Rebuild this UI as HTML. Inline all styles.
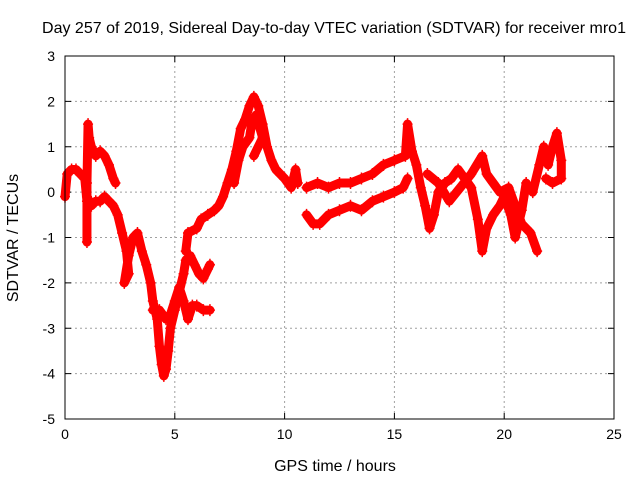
<!DOCTYPE html>
<html><head><meta charset="utf-8"><style>
body{margin:0;background:#fff;}
svg{display:block;font-family:"Liberation Sans",sans-serif;}
</style></head><body>
<svg id="chart" width="640" height="480">
<text x="334" y="33" font-size="16" text-anchor="middle">Day 257 of 2019, Sidereal Day-to-day VTEC variation (SDTVAR) for receiver mro1</text>
<text x="335" y="471" font-size="16" text-anchor="middle">GPS time / hours</text>
<text transform="translate(18,238) rotate(-90)" font-size="16" text-anchor="middle">SDTVAR / TECUs</text>
<g id="grid"></g><g id="marks"></g>
<rect x="65" y="56" width="549" height="363" fill="none" stroke="#000" stroke-width="1"/>
</svg>
<script>
const xTicks=[0,5,10,15,20,25];
const yTicks=[3,2,1,0,-1,-2,-3,-4,-5];
const track1=[[0,-0.1],[0.1,0.4],[0.3,0.5],[0.5,0.5],[0.7,0.4],[0.9,0.3],[1.0,-0.2],[1.0,-1.1],[1.0,0.2],[1.05,1.5],[1.1,1.2],[1.2,1.0],[1.4,0.8],[1.6,0.9],[1.8,0.8],[2.0,0.6],[2.2,0.3],[2.3,0.2]];
const track2=[[1.0,-0.1],[1.2,-0.3],[1.4,-0.2],[1.6,-0.2],[1.8,-0.1],[2.0,-0.2],[2.2,-0.3],[2.4,-0.5],[2.6,-0.9],[2.8,-1.3],[2.9,-1.8],[2.7,-2.0],[2.9,-1.4],[3.1,-1.0],[3.3,-0.9],[3.5,-1.3],[3.7,-1.6],[3.9,-2.0],[4.0,-2.4],[4.2,-2.8],[4.3,-3.4],[4.4,-3.8],[4.5,-4.05],[4.6,-3.9],[4.7,-3.5],[4.8,-3.0],[5.0,-2.6],[5.2,-2.2],[5.4,-1.8],[5.5,-1.5],[5.7,-1.4],[5.9,-1.6],[6.1,-1.8],[6.3,-1.9],[6.5,-1.7],[6.6,-1.6]];
const track3=[[4.0,-2.6],[4.3,-2.6],[4.6,-2.8],[4.8,-2.7],[5.0,-2.4],[5.2,-2.1],[5.4,-2.4],[5.6,-2.8],[5.8,-2.5],[6.0,-2.5],[6.3,-2.6],[6.6,-2.6]];
const track4=[[5.5,-1.3],[5.6,-0.9],[6.0,-0.8],[6.2,-0.6],[6.5,-0.5],[6.8,-0.4],[7.0,-0.3],[7.2,-0.1],[7.4,0.2],[7.6,0.5],[7.8,0.9],[8.0,1.4],[8.2,1.6],[8.4,1.9],[8.6,2.1],[8.8,1.9],[9.0,1.5],[9.2,1.0],[9.4,0.7],[9.6,0.5],[9.8,0.4],[10.0,0.3],[10.3,0.1],[10.5,0.5],[10.6,0.2]];
const track5=[[7.7,0.2],[7.9,0.7],[8.1,1.0],[8.4,1.2],[8.5,1.5],[8.7,1.7],[9.0,1.2],[8.6,0.8]];
const track6=[[11.0,-0.5],[11.3,-0.7],[11.6,-0.7],[12.0,-0.5],[12.5,-0.4],[13.0,-0.3],[13.5,-0.4],[14.0,-0.2],[14.5,-0.1],[15.0,0.0],[15.4,0.1],[15.6,0.3]];
const track7=[[11.0,0.1],[11.5,0.2],[12.0,0.1],[12.5,0.2],[13.0,0.2],[13.5,0.3],[14.0,0.4],[14.5,0.6],[15.0,0.7],[15.5,0.8],[15.6,1.5],[15.8,0.9],[16.0,0.6],[16.2,0.1],[16.4,-0.3],[16.6,-0.8],[16.8,-0.5],[17.0,0.0],[17.3,0.2],[17.6,0.3],[17.9,0.5],[18.2,0.3],[18.5,0.1],[18.8,-0.6],[19.0,-1.3],[19.2,-0.8],[19.5,-0.5],[19.8,-0.3],[20.0,-0.1],[20.3,-0.5],[20.5,-1.0],[20.8,-0.4],[21.0,0.2]];
const track8=[[16.5,0.4],[17.0,0.2],[17.5,-0.2],[18.0,0.1],[18.5,0.4],[19.0,0.8],[19.2,0.4],[19.5,0.2],[19.8,0.0],[20.2,0.1],[20.5,-0.3],[20.8,-0.7],[21.2,-0.9],[21.5,-1.3]];
const track9=[[21.3,0.0],[21.6,0.6],[21.8,1.0],[22.0,0.6],[22.2,1.0],[22.4,1.3],[22.6,0.7],[22.6,0.3],[22.2,0.2],[21.9,0.3]];
const tracks=[track1,track2,track3,track4,track5,track6,track7,track8,track9];
const NS="http://www.w3.org/2000/svg";
const L=65,R=614,T=56,B=419;
const sx=v=>L+(v-0)/(25-0)*(R-L);
const sy=v=>B-(v+5)/(3+5)*(B-T);
const grid=document.getElementById('grid'),marks=document.getElementById('marks'),svg=document.getElementById('chart');
function mk(t,a,p){const e=document.createElementNS(NS,t);for(const k in a)e.setAttribute(k,a[k]);p.appendChild(e);return e;}
xTicks.forEach(v=>{
 const x=sx(v);
 if(v>0&&v<25){const g=mk('line',{x1:x,x2:x,y1:T,y2:B,stroke:'#a0a0a0','stroke-dasharray':'2,3'},grid);
 
 }
 mk('line',{x1:x,x2:x,y1:B,y2:B-6,stroke:'#000'},grid);
 mk('line',{x1:x,x2:x,y1:T,y2:T+6,stroke:'#000'},grid);
 const t=mk('text',{x:x,y:B+20,'font-size':14,'text-anchor':'middle'},svg);t.textContent=v;
 
 
});
yTicks.forEach(v=>{
 const y=sy(v);
 if(v>-5&&v<3){const g=mk('line',{x1:L,x2:R,y1:y,y2:y,stroke:'#a0a0a0','stroke-dasharray':'2,3'},grid);
 
 }
 mk('line',{x1:L,x2:L+6,y1:y,y2:y,stroke:'#000'},grid);
 mk('line',{x1:R,x2:R-6,y1:y,y2:y,stroke:'#000'},grid);
 const t=mk('text',{x:L-10,y:y+5,'font-size':14,'text-anchor':'end'},svg);t.textContent=v;
 
 
});
tracks.forEach(tr=>{
 const p=mk('polyline',{points:tr.map(d=>sx(d[0])+','+sy(d[1])).join(' '),fill:'none',stroke:'#ff0000','stroke-width':9,'stroke-linejoin':'round','stroke-linecap':'round'},marks);
 
 
 tr.forEach(d=>{
  const x=sx(d[0]),y=sy(d[1]);
  const m=mk('path',{d:`M${x-5},${y}H${x+5}M${x},${y-6}V${y+6}`,stroke:'#ff0000','stroke-width':1.5},marks);
  
  
 });
});
</script>
</body></html>
